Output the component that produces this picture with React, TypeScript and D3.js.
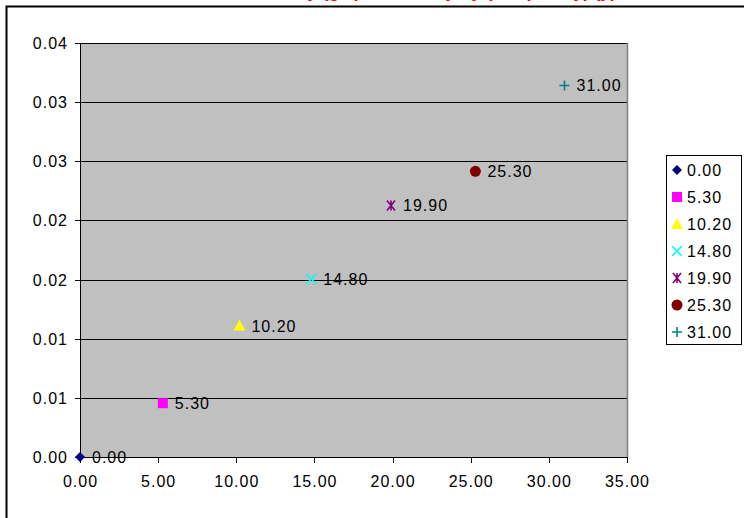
import React from "react";
import * as d3 from "d3";

const labels = ["0.00", "5.30", "10.20", "14.80", "19.90", "25.30", "31.00"];
const xValues = [0, 5.3, 10.2, 14.8, 19.9, 25.3, 31.0];
const yValues = [0, 0.0052, 0.0127, 0.0172, 0.0243, 0.0276, 0.0359];
const colors = ["#000080", "#FF00FF", "#FFFF00", "#00FFFF", "#800080", "#800000", "#008080"];
const shapes = ["diamond", "square", "triangle", "x", "star", "circle", "plus"];
const xTicks = [0, 5, 10, 15, 20, 25, 30, 35];
const yTickLabels = ["0.00", "0.01", "0.01", "0.02", "0.02", "0.03", "0.03", "0.04"];
const title = "Velocity (g/s) vs Density by (Frequency) (y)";

const W = 744, H = 518;
const left = 80, right = 627, top = 43, bottom = 457;
const FONT = "'Liberation Sans', Arial, sans-serif";

function Marker({ shape, color, x, y }: { shape: string; color: string; x: number; y: number }) {
  const s = 5;
  switch (shape) {
    case "diamond":
      return <path d={`M${x},${y - s}L${x + s},${y}L${x},${y + s}L${x - s},${y}Z`} fill={color} />;
    case "square":
      return <rect x={x - 5} y={y - 5} width={10} height={10} fill={color} />;
    case "triangle":
      return <path d={`M${x},${y - 6}L${x + 6},${y + 5}L${x - 6},${y + 5}Z`} fill={color} />;
    case "x":
      return <path d={`M${x - 5},${y - 5}L${x + 5},${y + 5}M${x - 5},${y + 5}L${x + 5},${y - 5}`} stroke={color} strokeWidth={1.6} />;
    case "star":
      return <path d={`M${x - 4},${y - 5}L${x + 4},${y + 5}M${x - 4},${y + 5}L${x + 4},${y - 5}M${x},${y - 5}L${x},${y + 5}`} stroke={color} strokeWidth={1.6} />;
    case "circle":
      return <circle cx={x} cy={y} r={5.5} fill={color} />;
    case "plus":
      return <path d={`M${x - 5},${y}L${x + 5},${y}M${x},${y - 5}L${x},${y + 5}`} stroke={color} strokeWidth={1.6} />;
  }
  return null;
}

export default function App() {
  const xs = d3.scaleLinear().domain([0, 35]).range([left, right]);
  const ys = d3.scaleLinear().domain([0, 0.04]).range([bottom, top]);
  const yStep = 0.04 / 7;
  const yLabelVals = d3.range(8).map((i) => i * yStep);
  const py = (v: number) => Math.round(ys(v)) + 0.5;
  return (
    <div style={{ position: "fixed", left: 0, top: 0 }}>
      <svg width={W} height={H} style={{ display: "block", fontFamily: FONT }}>
        <rect x={0} y={0} width={W} height={H} fill="#fff" />
        <text x={433} y={-3} textAnchor="middle" fill="#FF0000" fontWeight="bold" fontSize={18}>{title}</text>
        <rect x={6.5} y={6.5} width={W} height={H} fill="none" stroke="#000" strokeWidth={2} />
        <rect x={left} y={top} width={right - left} height={bottom - top} fill="#C0C0C0" />
        {yLabelVals.map((v, i) => i > 0 && (
          <line key={"g" + i} x1={left} x2={right} y1={py(v)} y2={py(v)} stroke="#000" strokeWidth={1} />
        ))}
        <line x1={right + 0.5} x2={right + 0.5} y1={top} y2={bottom} stroke="#808080" strokeWidth={1.5} />
        <line x1={left + 0.5} x2={left + 0.5} y1={top} y2={bottom + 0.5} stroke="#000" />
        <line x1={left} x2={right} y1={bottom + 0.5} y2={bottom + 0.5} stroke="#000" />
        {yLabelVals.map((v, i) => (
          <g key={"yt" + i}>
            <line x1={left - 5} x2={left} y1={py(v)} y2={py(v)} stroke="#000" />
            <text x={left - 12} y={ys(v) + 6} textAnchor="end" fontSize={16} letterSpacing={1}>{yTickLabels[i]}</text>
          </g>
        ))}
        {xTicks.map((t) => (
          <g key={"xt" + t}>
            <line x1={Math.round(xs(t)) + 0.5} x2={Math.round(xs(t)) + 0.5} y1={bottom} y2={bottom + 6} stroke="#000" />
            <text x={xs(t) + 0.5} y={bottom + 30} textAnchor="middle" fontSize={16} letterSpacing={1}>{d3.format(".2f")(t)}</text>
          </g>
        ))}
        {xValues.map((xv, i) => (
          <g key={"p" + i}>
            <Marker shape={shapes[i]} color={colors[i]} x={xs(xv)} y={ys(yValues[i])} />
            <text x={xs(xv) + 12} y={ys(yValues[i]) + 6} fontSize={16} letterSpacing={1}>{labels[i]}</text>
          </g>
        ))}
        <rect x={666.5} y={155.5} width={75} height={189} fill="#fff" stroke="#000" />
        {labels.map((l, i) => (
          <g key={"l" + i}>
            <Marker shape={shapes[i]} color={colors[i]} x={677} y={170 + i * 27} />
            <text x={687} y={170 + i * 27 + 6} fontSize={16} letterSpacing={1}>{l}</text>
          </g>
        ))}
      </svg>
    </div>
  );
}
